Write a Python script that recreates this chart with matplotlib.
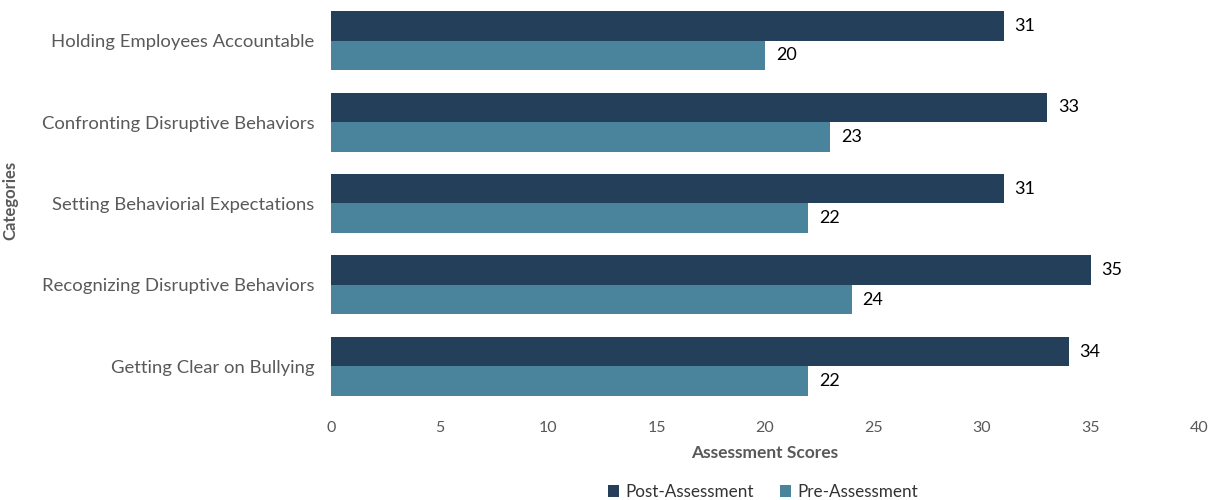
import matplotlib
matplotlib.use("Agg")
import matplotlib.pyplot as plt
import numpy as np

plt.rcParams['font.family'] = ['Lato', 'DejaVu Sans']

categories = ["Holding Employees Accountable", "Confronting Disruptive Behaviors",
              "Setting Behaviorial Expectations", "Recognizing Disruptive Behaviors",
              "Getting Clear on Bullying"]
post = [31, 33, 31, 35, 34]
pre = [20, 23, 22, 24, 22]
xticks = [0, 5, 10, 15, 20, 25, 30, 35, 40]

post_color = "#243F59"
pre_color = "#4A849C"
txt = "#595959"

fig = plt.figure(figsize=(12.14, 5.0), dpi=100)
ax = fig.add_axes([331/1214, 1 - 407/500, (1199-331)/1214, 407/500])

y = np.arange(len(categories))
h = 0.363
ax.barh(y - h/2, post, height=h, color=post_color, label="Post-Assessment")
ax.barh(y + h/2, pre, height=h, color=pre_color, label="Pre-Assessment")

for yi, v in zip(y, post):
    ax.text(v + 0.5, yi - h/2, str(v), va="center", ha="left", fontsize=13, color="black")
for yi, v in zip(y, pre):
    ax.text(v + 0.5, yi + h/2, str(v), va="center", ha="left", fontsize=13, color="black")

ax.set_ylim(len(categories) - 0.5, -0.5)
ax.set_xlim(0, 40)
ax.set_xticks(xticks)
ax.set_xticklabels([str(t) for t in xticks], fontsize=11.5, color=txt)
ax.set_yticks(y)
ax.set_yticklabels(categories, fontsize=13.3, color=txt)
ax.tick_params(axis='both', length=0)
ax.tick_params(axis='x', pad=10)
ax.tick_params(axis='y', pad=12)
for s in ax.spines.values():
    s.set_visible(False)

ax.set_xlabel("Assessment Scores", fontsize=12.5, fontweight="bold", color=txt, labelpad=7)
fig.text(10/1214, 1 - 200/500, "Categories", rotation=90, fontsize=12, fontweight="bold",
         color=txt, ha="center", va="center")

leg = fig.legend(loc="center", bbox_to_anchor=(763/1214, 1 - 492/500), ncol=2, frameon=False,
                 fontsize=12.3, handlelength=0.65, handleheight=0.65, columnspacing=1.5,
                 handletextpad=0.4)
for t in leg.get_texts():
    t.set_color("#333333")

fig.savefig("out.png", dpi=100)
